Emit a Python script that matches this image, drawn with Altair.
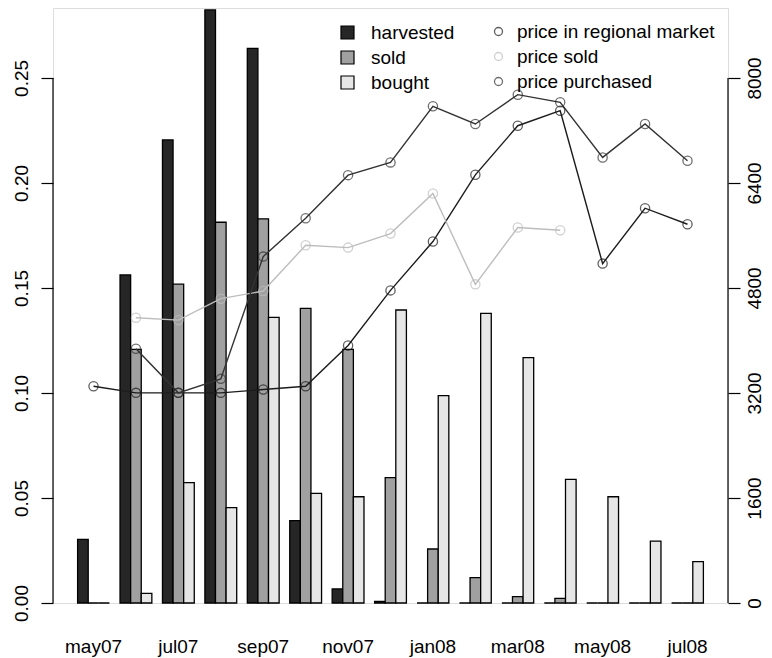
import altair as alt
import pandas as pd

months = ["may07", "jun07", "jul07", "aug07", "sep07", "oct07", "nov07", "dec07",
          "jan08", "feb08", "mar08", "apr08", "may08", "jun08", "jul08"]
labeled_months = ["may07", "jul07", "sep07", "nov07", "jan08", "mar08", "may08", "jul08"]

kinds = ["harvested", "sold", "bought"]
harvested = [0.0303, 0.1562, 0.2205, 0.2824, 0.2641, 0.0392, 0.0067, 0.0008,
             0, 0, 0, 0, 0, 0, 0]
sold = [0, 0.1208, 0.1518, 0.1813, 0.1829, 0.1403, 0.1208, 0.0597,
        0.0257, 0.0121, 0.0030, 0.0022, 0, 0, 0]
bought = [0, 0.0046, 0.0573, 0.0454, 0.1360, 0.0522, 0.0506, 0.1395,
          0.0987, 0.1379, 0.1168, 0.0589, 0.0506, 0.0295, 0.0197]

series = ["price in regional market", "price sold", "price purchased"]
price_market = [3302, 3202, 3202, 3202, 3252, 3302, 3924, 4763,
                5507, 6524, 7272, 7501, 5171, 6015, 5771]
price_sold = [None, 4347, 4310, 4637, 4753, 5450, 5415, 5629,
              6240, 4855, 5721, 5679, None, None, None]
price_purchased = [None, 3873, 3202, 3415, 5278, 5863, 6519, 6713,
                   7568, 7298, 7745, 7629, 6789, 7298, 6737]

left_ticks = [0, 0.05, 0.10, 0.15, 0.20, 0.25]
right_ticks = [0, 1600, 3200, 4800, 6400, 8000]

bar_colors = ["#262626", "#a0a0a0", "#e6e6e6"]
line_colors = ["#1c1c1c", "#bdbdbd", "#333333"]

W, H = 675, 595
YMAX = 0.2833
RMAX = YMAX * 32000
FONT = "Liberation Sans"
FS = 19

rows = []
for k, vals in zip(kinds, [harvested, sold, bought]):
    for m, v in zip(months, vals):
        rows.append({"month": m, "kind": k, "value": v})
bar_df = pd.DataFrame(rows)

prow = []
for s, vals in zip(series, [price_market, price_sold, price_purchased]):
    for m, v in zip(months, vals):
        if v is not None:
            prow.append({"month": m, "series": s, "price": v})
price_df = pd.DataFrame(prow)

xscale = alt.Scale(domain=months, paddingInner=0.25, paddingOuter=0.58)
yl = alt.Scale(domain=[0, YMAX], nice=False, zero=True)
yr = alt.Scale(domain=[0, RMAX], nice=False, zero=True)

x_enc = alt.X("month:N", sort=months, scale=xscale,
              axis=alt.Axis(values=labeled_months, title=None, domain=False,
                            ticks=False, tickSize=0, labelAngle=0,
                            labelFontSize=FS, labelFont=FONT, labelColor="black",
                            labelPadding=34, grid=False))

bars = alt.Chart(bar_df).mark_bar(stroke="black", strokeWidth=1.3).encode(
    x=x_enc,
    xOffset=alt.XOffset("kind:N", sort=kinds,
                        scale=alt.Scale(domain=kinds, paddingInner=0, paddingOuter=0)),
    y=alt.Y("value:Q", scale=yl,
            axis=alt.Axis(orient="left", values=left_ticks, format=".2f", title=None,
                          domain=False, grid=False, tickSize=12, tickColor="black",
                          tickWidth=1.2, labelAngle=270, labelAlign="center",
                          labelBaseline="bottom", labelPadding=10, labelFontSize=FS,
                          labelFont=FONT, labelColor="black")),
    fill=alt.Fill("kind:N", sort=kinds, scale=alt.Scale(domain=kinds, range=bar_colors),
                  legend=alt.Legend(title=None, orient="none", legendX=285, legendY=15,
                                    symbolType="square", symbolSize=169,
                                    symbolStrokeColor="black", symbolStrokeWidth=1.2,
                                    labelFontSize=FS, labelFont=FONT, labelColor="black",
                                    labelOffset=14, labelLimit=0, rowPadding=5, padding=0)),
)

left_axis_line = alt.Chart(pd.DataFrame({"a": [left_ticks[0]], "b": [left_ticks[-1]]})).mark_rule(
    color="black", strokeWidth=1.2).encode(
    x=alt.value(0),
    y=alt.Y("a:Q", scale=yl, axis=None),
    y2="b:Q",
)

line_layers = []
for s, c in zip(series, line_colors):
    line_layers.append(
        alt.Chart(price_df).transform_filter(alt.datum.series == s).mark_line(
            color=c, strokeWidth=1.4).encode(
            x=alt.X("month:N", sort=months, scale=xscale),
            y=alt.Y("price:Q", scale=yr, axis=None),
        )
    )

points = alt.Chart(price_df).mark_point(filled=False, size=85, strokeWidth=1.3).encode(
    x=alt.X("month:N", sort=months, scale=xscale),
    y=alt.Y("price:Q", scale=yr,
            axis=alt.Axis(orient="right", values=right_ticks, format="d", title=None,
                          domain=False, grid=False, tickSize=12, tickColor="black",
                          tickWidth=1.2, labelAngle=270, labelAlign="center",
                          labelBaseline="top", labelPadding=5, labelFontSize=FS,
                          labelFont=FONT, labelColor="black")),
    stroke=alt.Stroke("series:N", sort=series, scale=alt.Scale(domain=series, range=line_colors),
                      legend=alt.Legend(title=None, orient="none", legendX=436, legendY=14,
                                        symbolType="circle", symbolSize=64,
                                        symbolStrokeWidth=1.3, symbolFillColor="transparent",
                                        labelFontSize=FS, labelFont=FONT, labelColor="black",
                                        labelOffset=9, labelLimit=0, rowPadding=5, padding=0)),
)

right_axis_line = alt.Chart(pd.DataFrame({"a": [right_ticks[0]], "b": [right_ticks[-1]]})).mark_rule(
    color="black", strokeWidth=1.2).encode(
    x=alt.value(W),
    y=alt.Y("a:Q", scale=yr, axis=None),
    y2="b:Q",
)

chart = alt.layer(
    bars, left_axis_line, *line_layers, points, right_axis_line
).resolve_scale(
    y="independent"
).properties(
    width=W, height=H,
    padding={"left": 45, "top": 0, "right": 36, "bottom": 55},
    autosize=alt.AutoSizeParams(type="none"),
).configure_view(stroke=None).configure(background="white")

chart.save("out.html", embed_options={"renderer": "svg", "actions": False})
